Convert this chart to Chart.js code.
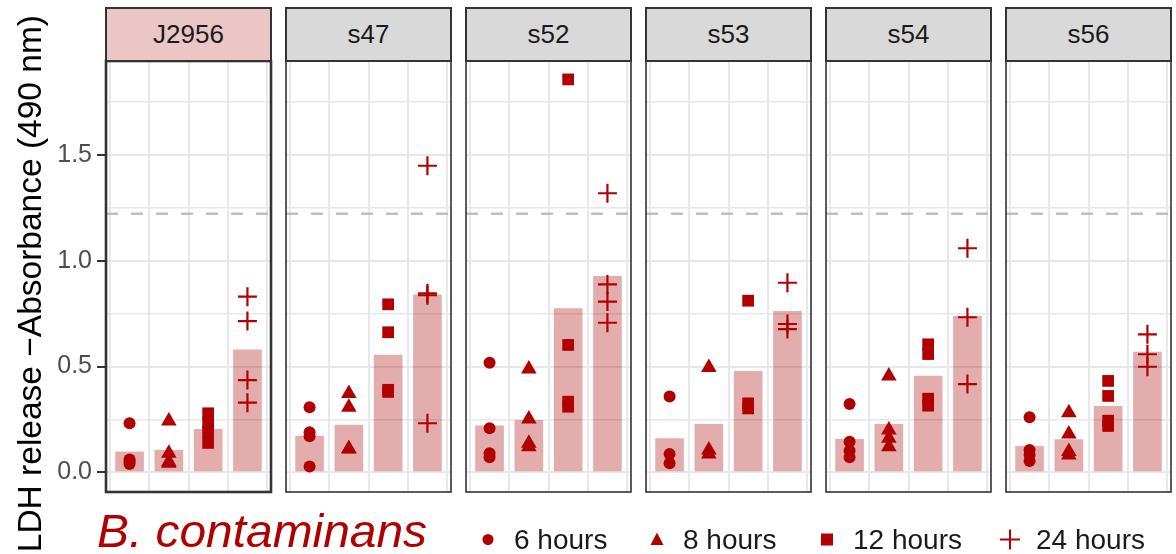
<!DOCTYPE html>
<html><head><meta charset="utf-8">
<script src="https://cdn.jsdelivr.net/npm/chart.js@4"></script>
<style>
html,body{margin:0;padding:0;background:#fff;}
body{width:1176px;height:554px;overflow:hidden;position:relative;font-family:"Liberation Sans",Arial,Helvetica,sans-serif;}
canvas{position:absolute;}
.strip{position:absolute;box-sizing:border-box;border:2.5px solid #333;background:#d9d9d9;color:#1a1a1a;font-size:26px;display:flex;align-items:center;justify-content:center;}
svg{position:absolute;left:0;top:0;}
</style></head><body>
<script>
// ---- data ----
const strains = ['J2956','s47','s52','s53','s54','s56'];
const hours = ['6 hours','8 hours','12 hours','24 hours'];
const yTicks = [0, 0.5, 1.0, 1.5];
const yMinor = [0.25, 0.75, 1.25, 1.75];
const threshold = 1.222;

const barJ2956 = [0.098, 0.106, 0.205, 0.581];
const barS47   = [0.173, 0.225, 0.556, 0.841];
const barS52   = [0.221, 0.247, 0.775, 0.928];
const barS53   = [0.161, 0.228, 0.479, 0.762];
const barS54   = [0.158, 0.228, 0.457, 0.739];
const barS56   = [0.124, 0.156, 0.313, 0.570];

const repJ2956 = [[0.232,0.061,0.050,0.039],[0.243,0.090,0.050,0.043],[0.279,0.235,0.190,0.139],[0.830,0.715,0.436,0.329]];
const repS47   = [[0.307,0.189,0.170,0.027],[0.372,0.307,0.111,0.110],[0.794,0.662,0.390,0.380],[1.449,0.846,0.837,0.232]];
const repS52   = [[0.518,0.208,0.090,0.071],[0.488,0.252,0.137,0.121],[1.857,0.602,0.334,0.310],[1.319,0.888,0.807,0.707]];
const repS53   = [[0.358,0.087,0.043],[0.496,0.106,0.087],[0.811,0.326,0.302],[0.896,0.701,0.677]];
const repS54   = [[0.323,0.145,0.102,0.071],[0.455,0.200,0.161,0.121],[0.605,0.559,0.348,0.315],[1.059,0.733,0.417]];
const repS56   = [[0.260,0.106,0.082,0.054],[0.282,0.181,0.098,0.082],[0.432,0.361,0.244,0.219],[0.652,0.558,0.499]];

const bars = [barJ2956, barS47, barS52, barS53, barS54, barS56];
const reps = [repJ2956, repS47, repS52, repS53, repS54, repS56];

// ---- styling / layout ----
const RED = '#b00000';
const BAR = 'rgba(168,0,4,0.32)';
const GRID = '#e8e8e8';
const shapes = [
  {pointStyle:'circle', r:6, bw:0},
  {pointStyle:'triangle', r:9, bw:0},
  {pointStyle:'rect', r:8.3, bw:0},
  {pointStyle:'cross', r:9.5, bw:2.2}
];
const PL = [106, 286, 466, 646, 826, 1006];
const PW = 165, TOP = 61, BOT = 492, P = 4;
const FONT = '"Liberation Sans", Arial, Helvetica, sans-serif';

const near = (a, arr) => arr.some(b => Math.abs(a - b) < 1e-6);

const framePlugin = {
  id: 'frame',
  afterDraw(chart, args, opts) {
    const {ctx, chartArea: a} = chart;
    ctx.save();
    ctx.strokeStyle = '#333';
    ctx.lineWidth = opts.w;
    ctx.strokeRect(a.left, a.top, a.right - a.left, a.bottom - a.top);
    ctx.restore();
  }
};

strains.forEach((name, i) => {
  const first = i === 0;
  const cv = document.createElement('canvas');
  const left = first ? 0 : PL[i] - P;
  const width = first ? PL[0] + PW + P : PW + 2 * P;
  const height = BOT - TOP + 2 * P;
  cv.width = width; cv.height = height;
  cv.style.left = left + 'px'; cv.style.top = (TOP - P) + 'px';
  cv.style.width = width + 'px'; cv.style.height = height + 'px';
  document.body.appendChild(cv);

  const datasets = [];
  hours.forEach((h, k) => {
    const s = shapes[k];
    datasets.push({
      type: 'scatter', label: h, order: 0,
      data: reps[i][k].map(v => ({x: k, y: v})),
      pointStyle: s.pointStyle, pointRadius: s.r, pointHoverRadius: s.r,
      backgroundColor: RED, borderColor: RED, borderWidth: s.bw
    });
  });
  datasets.push({
    type: 'line', label: 'threshold', order: 1,
    data: [{x: -0.6, y: threshold}, {x: 3.6, y: threshold}],
    borderColor: '#bebebe', borderWidth: 2.4, borderDash: [12, 13],
    pointRadius: 0, fill: false
  });
  datasets.push({
    type: 'bar', label: 'mean', order: 2,
    data: bars[i].map((v, k) => ({x: k, y: v})),
    backgroundColor: BAR, borderWidth: 0,
    barPercentage: 0.73, categoryPercentage: 1.0
  });

  new Chart(cv, {
    type: 'bar',
    data: {datasets},
    plugins: [framePlugin],
    options: {
      responsive: false, animation: false, devicePixelRatio: 1, events: [],
      layout: {autoPadding: false, padding: {left: first ? 0 : P, right: P, top: P, bottom: P}},
      plugins: {legend: {display: false}, tooltip: {enabled: false}, frame: {w: first ? 2.6 : 1.6}},
      scales: {
        x: {
          type: 'linear', min: -0.6, max: 3.6, offset: false,
          afterBuildTicks: s => { s.ticks = hours.map((h, k) => ({value: k})); },
          afterFit: s => { s.height = 0; s.paddingLeft = 0; s.paddingRight = 0; },
          ticks: {display: false},
          grid: {color: GRID, lineWidth: 2, drawTicks: false},
          border: {display: false}
        },
        y: {
          type: 'linear', min: -0.093, max: 1.944,
          afterBuildTicks: s => { s.ticks = yTicks.concat(yMinor).sort((a, b) => a - b).map(v => ({value: v})); },
          afterFit: s => { s.width = first ? PL[0] : 0; s.paddingTop = 0; s.paddingBottom = 0; },
          ticks: {
            display: first, autoSkip: false, padding: 5, color: '#4d4d4d',
            font: {family: FONT, size: 25},
            callback: v => near(v, yTicks) ? v.toFixed(1) : ''
          },
          grid: {
            color: GRID,
            lineWidth: c => (c.tick && near(c.tick.value, yTicks)) ? 2 : 1.5,
            drawTicks: first, tickLength: 9, tickWidth: 2,
            tickColor: c => (c.tick && near(c.tick.value, yTicks)) ? '#333' : 'rgba(0,0,0,0)'
          },
          border: {display: false}
        }
      }
    }
  });

  const st = document.createElement('div');
  st.className = 'strip';
  st.textContent = name;
  st.style.left = (PL[i] - 1.25) + 'px';
  st.style.width = (PW + 2.5) + 'px';
  st.style.top = '7px';
  st.style.height = (TOP + 1.25 - 7) + 'px';
  if (first) st.style.background = '#ebc6c7';
  document.body.appendChild(st);
});

// ---- axis title + legend (SVG text) ----
const NS = 'http://www.w3.org/2000/svg';
const svg = document.createElementNS(NS, 'svg');
svg.setAttribute('width', 1176); svg.setAttribute('height', 554);
document.body.appendChild(svg);
function el(tag, attrs, text) {
  const e = document.createElementNS(NS, tag);
  for (const k in attrs) e.setAttribute(k, attrs[k]);
  if (text != null) e.textContent = text;
  svg.appendChild(e);
  return e;
}
el('text', {transform: 'translate(41,15) rotate(-90)', 'text-anchor': 'end', 'font-size': 33.5,
  'font-family': FONT, fill: '#000'},
  'LDH release \u2212Absorbance (490 nm)');
el('text', {x: 97, y: 547, 'font-size': 46, 'font-style': 'italic', 'font-family': FONT, fill: RED,
  textLength: 330, lengthAdjust: 'spacingAndGlyphs'}, 'B. contaminans');
const legX = [514, 683, 853, 1036];
const keyX = [488, 657, 827, 1010];
hours.forEach((h, k) => {
  el('text', {x: legX[k], y: 549, 'font-size': 28, 'font-family': FONT, fill: '#1a1a1a'}, h);
  const cx = keyX[k], cy = 539.5;
  if (k === 0) el('circle', {cx, cy, r: 5.5, fill: RED});
  if (k === 1) el('polygon', {points: `${cx},${cy-7} ${cx+6.5},${cy+5.5} ${cx-6.5},${cy+5.5}`, fill: RED});
  if (k === 2) el('rect', {x: cx - 6, y: cy - 6, width: 12, height: 12, fill: RED});
  if (k === 3) el('path', {d: `M${cx-10},${cy}H${cx+10}M${cx},${cy-10}V${cy+10}`, stroke: RED, 'stroke-width': 2});
});
</script>
</body></html>
